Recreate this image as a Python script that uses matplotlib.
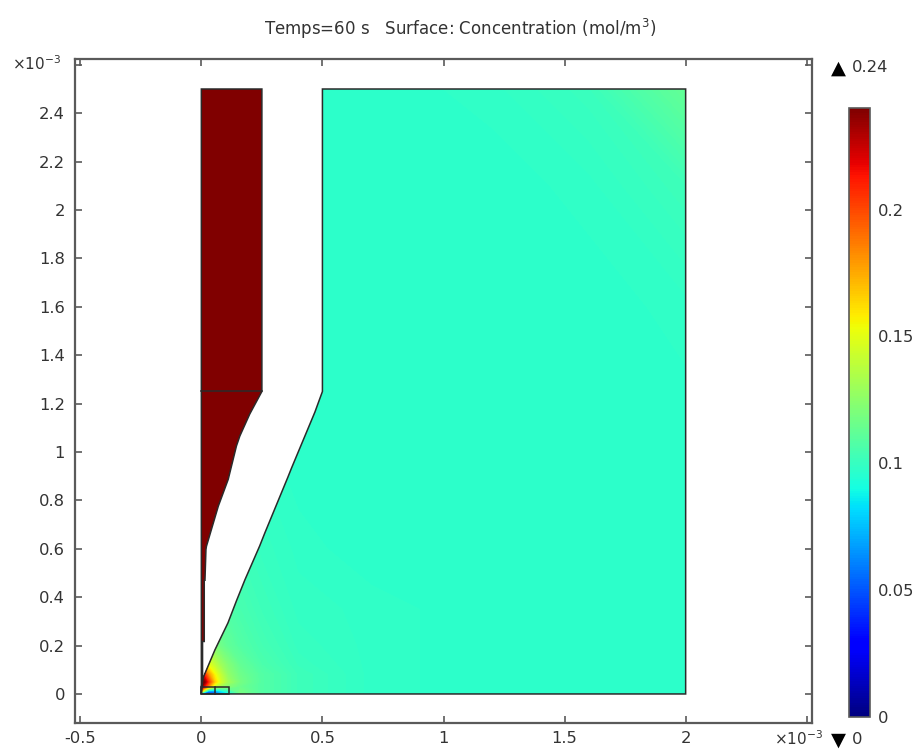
#%% Imports
import numpy as np
import matplotlib
matplotlib.use('Agg')
import matplotlib.pyplot as plt
from matplotlib.patches import Polygon

#%% Data (x and y in units of 1e-3 m, concentration in mol/m3)
x_ticks = [-0.5, 0, 0.5, 1, 1.5, 2, 2.5]
x_tick_labels = ['-0.5', '0', '0.5', '1', '1.5', '2', '']
y_ticks = [0, 0.2, 0.4, 0.6, 0.8, 1, 1.2, 1.4, 1.6, 1.8, 2, 2.2, 2.4, 2.6]
y_tick_labels = ['0', '0.2', '0.4', '0.6', '0.8', '1', '1.2', '1.4', '1.6', '1.8', '2', '2.2', '2.4', '']
bar_ticks = [0, 0.05, 0.1, 0.15, 0.2]
bar_tick_labels = ['0', '0.05', '0.1', '0.15', '0.2']
c_min, c_max = 0, 0.24

# outline of the duct (saturated) and of the bath
duct_x = [0, 0.25, 0.25, 0.2, 0.159, 0.145, 0.111, 0.07, 0.021, 0.019, 0.015, 0.015, 0.012, 0.012, 0.005, 0.005, 0]
duct_y = [2.5, 2.5, 1.25, 1.157, 1.066, 1.025, 0.887, 0.776, 0.61, 0.597, 0.472, 0.47, 0.47, 0.217, 0.217, 0.06, 0]
bath_x = [0.5, 2, 2, 0, 0, 0.007, 0.056, 0.11, 0.145, 0.18, 0.241, 0.262, 0.357, 0.373, 0.469, 0.5]
bath_y = [2.5, 2.5, 0, 0, 0.03, 0.066, 0.182, 0.294, 0.385, 0.472, 0.612, 0.665, 0.895, 0.935, 1.165, 1.25]
tip_x = [0, 0.113, 0.113, 0]
tip_y = [0, 0, 0.028, 0.028]
tip_div = 0.058

# concentration
field_x = [0, 0.012, 0.03, 0.055, 0.08, 0.11, 0.16, 0.25, 0.4, 0.7, 1.2, 1.6, 2.0]
field_y = [0, 0.01, 0.03, 0.05, 0.08, 0.12, 0.2, 0.35, 0.6, 1.0, 1.6, 2.1, 2.5]
field_c = [
    [0.020, 0.020, 0.030, 0.050, 0.075, 0.090, 0.118, 0.108, 0.102, 0.098, 0.097, 0.097, 0.097],
    [0.170, 0.120, 0.060, 0.060, 0.080, 0.095, 0.118, 0.108, 0.102, 0.098, 0.097, 0.097, 0.097],
    [0.240, 0.215, 0.180, 0.140, 0.130, 0.122, 0.115, 0.108, 0.102, 0.098, 0.097, 0.097, 0.097],
    [0.240, 0.240, 0.205, 0.165, 0.145, 0.130, 0.118, 0.108, 0.102, 0.098, 0.097, 0.097, 0.097],
    [0.225, 0.210, 0.180, 0.155, 0.140, 0.126, 0.116, 0.108, 0.102, 0.098, 0.097, 0.097, 0.097],
    [0.170, 0.160, 0.150, 0.140, 0.130, 0.122, 0.113, 0.106, 0.101, 0.098, 0.097, 0.097, 0.097],
    [0.130, 0.128, 0.125, 0.120, 0.116, 0.112, 0.108, 0.104, 0.100, 0.098, 0.097, 0.097, 0.097],
    [0.112, 0.112, 0.110, 0.110, 0.108, 0.107, 0.105, 0.102, 0.099, 0.098, 0.097, 0.097, 0.097],
    [0.104, 0.104, 0.104, 0.104, 0.103, 0.103, 0.102, 0.100, 0.098, 0.097, 0.097, 0.097, 0.097],
    [0.098, 0.098, 0.098, 0.098, 0.098, 0.098, 0.098, 0.098, 0.097, 0.097, 0.097, 0.097, 0.097],
    [0.097, 0.097, 0.097, 0.097, 0.097, 0.097, 0.097, 0.097, 0.097, 0.097, 0.097, 0.097, 0.098],
    [0.097, 0.097, 0.097, 0.097, 0.097, 0.097, 0.097, 0.097, 0.097, 0.097, 0.097, 0.098, 0.102],
    [0.097, 0.097, 0.097, 0.097, 0.097, 0.097, 0.097, 0.097, 0.097, 0.097, 0.098, 0.101, 0.113],
]

#%% Figure and axes
W, H = 921, 752
text_col = '#333333'
spine_col = '#5a5a5a'
line_col = '#2a2a2a'
fig = plt.figure(figsize=(W / 100, H / 100), dpi=100)
ax = fig.add_axes([74.7 / W, (H - 723) / H, 737.6 / W, 664 / H])
cax = fig.add_axes([849 / W, (H - 717) / H, 21 / W, 609 / H])

#%% Field and geometry
levels = np.linspace(c_min, c_max, 1201)
cs = ax.contourf(field_x, field_y, np.array(field_c), levels=levels, cmap='jet',
                 vmin=c_min, vmax=c_max, antialiased=False, extend='both')
bath = Polygon(np.column_stack([bath_x, bath_y]), closed=True, fill=False,
               edgecolor=line_col, linewidth=1.1, zorder=4)
ax.add_patch(bath)
cs.set_clip_path(bath)

duct = Polygon(np.column_stack([duct_x, duct_y]), closed=True,
               facecolor=plt.get_cmap('jet')(1.0), edgecolor=line_col, linewidth=1.1, zorder=3)
ax.add_patch(duct)
ax.plot([0, 0.25], [1.25, 1.25], color=line_col, lw=1.1, zorder=5)
ax.add_patch(Polygon(np.column_stack([tip_x, tip_y]), closed=True, fill=False,
                     edgecolor=line_col, linewidth=1.1, zorder=5))
ax.plot([tip_div, tip_div], [0, tip_y[2]], color=line_col, lw=1.1, zorder=5)

#%% Axis cosmetics
ax.set_xlim(-0.523, 2.523)
ax.set_ylim(-0.12, 2.624)
ax.set_xticks(x_ticks, x_tick_labels)
ax.set_yticks(y_ticks, y_tick_labels)
ax.tick_params(direction='in', top=True, right=True, length=4.8, width=1.2, color=spine_col,
               labelcolor=text_col, labelsize=11.8)
ax.tick_params(axis='y', pad=7)
ax.tick_params(axis='x', pad=6)
for s in ax.spines.values():
    s.set_color(spine_col)
    s.set_linewidth(1.6)
fig.text(460.5 / W, (H - 29) / H, 'Temps=60 s   Surface: Concentration (mol/m$^{3}$)',
         color=text_col, fontsize=12, ha='center', va='center')
fig.text(12 / W, (H - 64) / H, r'$\times$10$^{-3}$', color=text_col, fontsize=11, va='center')
fig.text(774 / W, (H - 739) / H, r'$\times$10$^{-3}$', color=text_col, fontsize=11, va='center')

#%% Colour bar
sm = plt.cm.ScalarMappable(norm=plt.Normalize(c_min, c_max), cmap='jet')
cb = fig.colorbar(sm, cax=cax, ticks=bar_ticks)
cb.ax.set_yticklabels(bar_tick_labels)
cb.ax.tick_params(length=0, labelcolor=text_col, labelsize=11.8, pad=5.5)
cb.outline.set_edgecolor(spine_col)
cb.outline.set_linewidth(1.2)
fig.text(838 / W, (H - 68) / H, '\u25b2', color='black', fontsize=14, ha='center', va='center')
fig.text(852 / W, (H - 68) / H, '%g' % c_max, color=text_col, fontsize=11.8, va='center')
fig.text(838 / W, (H - 740) / H, '\u25bc', color='black', fontsize=14, ha='center', va='center')
fig.text(852 / W, (H - 740) / H, '%g' % c_min, color=text_col, fontsize=11.8, va='center')

fig.savefig('out.png', dpi=100)
